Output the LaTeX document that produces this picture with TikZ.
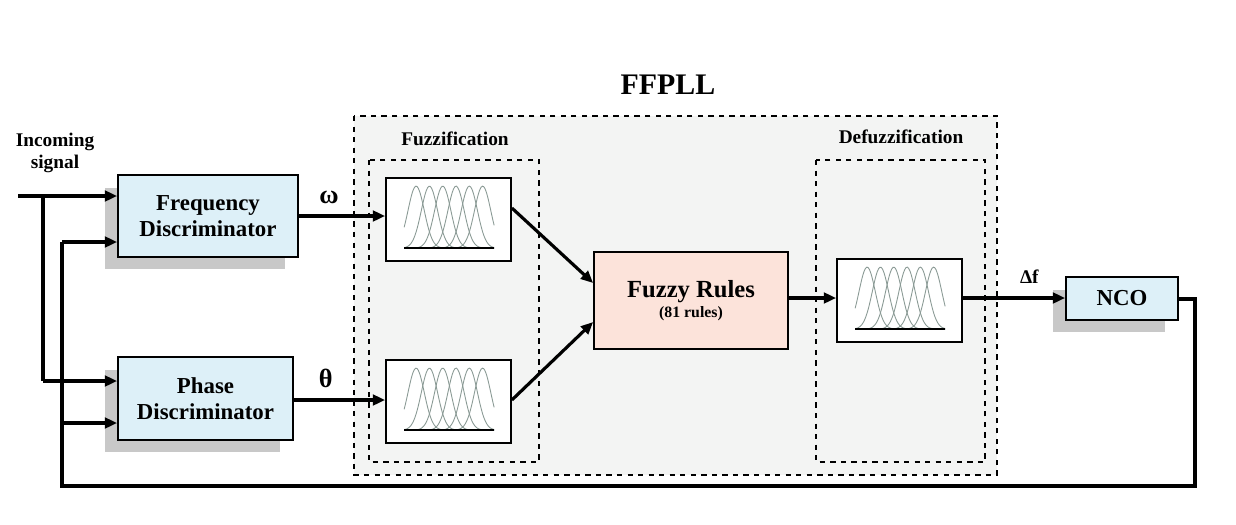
\documentclass[tikz,border=0pt]{standalone}
\usepackage{fontspec}
\setmainfont{Liberation Serif}
\usetikzlibrary{arrows.meta,shadows}
\definecolor{bluef}{HTML}{DDF0F8}
\definecolor{pinkf}{HTML}{FCE3DA}
\definecolor{grayf}{HTML}{F3F4F3}
\definecolor{shad}{HTML}{C8C8C8}
\definecolor{mfc}{HTML}{8A9A95}
\tikzset{
  px/.style={x=0.02cm,y=-0.02cm},
  blk/.style={draw,line width=1pt,fill=bluef,align=center,font=\fontsize{13}{15}\selectfont\bfseries,
     general shadow={fill=shad,shadow xshift=-0.26cm,shadow yshift=-0.25cm}},
  mfbox/.style={draw,line width=1pt,fill=white,minimum width=2.5cm,minimum height=1.66cm,inner sep=0pt},
  dbox/.style={draw,dashed,line width=0.6pt},
  con/.style={line width=1.8pt,-{Triangle[length=7pt,width=6pt]}},
  wire/.style={line width=1.8pt},
  lbl/.style={font=\fontsize{11}{13}\selectfont\bfseries,align=center},
  greek/.style={font=\fontsize{15}{17}\selectfont\bfseries}
}
\newcommand{\mfcurves}[1]{%
  \begin{scope}[shift={(#1.north west)}]
    \foreach \k in {0,...,5}{
      \draw[mfc,line width=0.5pt] plot[domain=19:109,samples=70,smooth] (\x,{71-62*exp(-((\x-31-13.3*\k)/11.5)^2)});
    }
    \draw[line width=1pt] (19,71) -- (109,71);
  \end{scope}}
\begin{document}
\begin{tikzpicture}[px]
\useasboundingbox (0,0) rectangle (1236,524);
% outer
\draw[dbox,fill=grayf] (354,116) rectangle (997,475);
\draw[dbox] (369,160) rectangle (539,462);
\draw[dbox] (816,160) rectangle (985,462);
\node[font=\fontsize{17}{19}\selectfont\bfseries] (title) at (668,85) {FFPLL};
\node[lbl] (fz) at (455,139) {Fuzzification};
\node[lbl] (dfz) at (901,137) {Defuzzification};
% blocks
\node[blk,minimum width=3.6cm,minimum height=1.64cm] (fd) at (208,216) {Frequency\\Discriminator};
\node[blk,minimum width=3.5cm,minimum height=1.66cm] (pd) at (205.5,398.5) {Phase\\Discriminator};
\node[blk,minimum width=2.24cm,minimum height=0.86cm] (nco) at (1122,298.5) {NCO};
\node[draw,line width=1pt,fill=pinkf,minimum width=3.88cm,minimum height=1.94cm,align=center] (fr) at (691,300.5)
  {{\fontsize{14}{16}\selectfont\bfseries Fuzzy Rules}\\[-1pt]{\fontsize{9}{10}\selectfont\bfseries (81 rules)}};
\node[mfbox] (m1) at (448.5,219.5) {};
\node[mfbox] (m2) at (448.5,401.5) {};
\node[mfbox] (m3) at (899.5,300.5) {};
\mfcurves{m1}\mfcurves{m2}\mfcurves{m3}
% inputs
\node[lbl] (in) at (55,153) {Incoming\\signal};
\coordinate (s0) at (18,196);
\coordinate (a) at (43,196);
\coordinate (b) at (43,381);
\coordinate (c) at (62,242);
\coordinate (d) at (62,423);
\coordinate (e) at (62,486);
\coordinate (f) at (1195,486);
\coordinate (g) at (1195,299);
\draw[con] (s0) -- (fd.west |- s0);
\draw[wire] (a) -- (b);
\draw[con] (b) -- (pd.west |- b);
\draw[con] (c) -- (fd.west |- c);
\draw[con] (d) -- (pd.west |- d);
\draw[wire] (c) -- (e) -- (f) -- (g) -- (nco.east |- g);
% signals
\draw[con] (fd.east |- 0,216) -- (m1.west |- 0,216) node[pos=0.35,above=3pt,greek] {ω};
\draw[con] (pd.east |- 0,400) -- (m2.west |- 0,400) node[pos=0.35,above=3pt,greek] {θ};
\draw[con] (m1.east |- 0,208) -- (fr.west |- 0,283);
\draw[con] (m2.east |- 0,400) -- (fr.west |- 0,322);
\draw[con] (fr.east |- 0,298) -- (m3.west |- 0,298);
\draw[con] (m3.east |- 0,298) -- (nco.west |- 0,298) node[pos=0.65,above=4pt,lbl] {Δf};
\end{tikzpicture}
\end{document}
